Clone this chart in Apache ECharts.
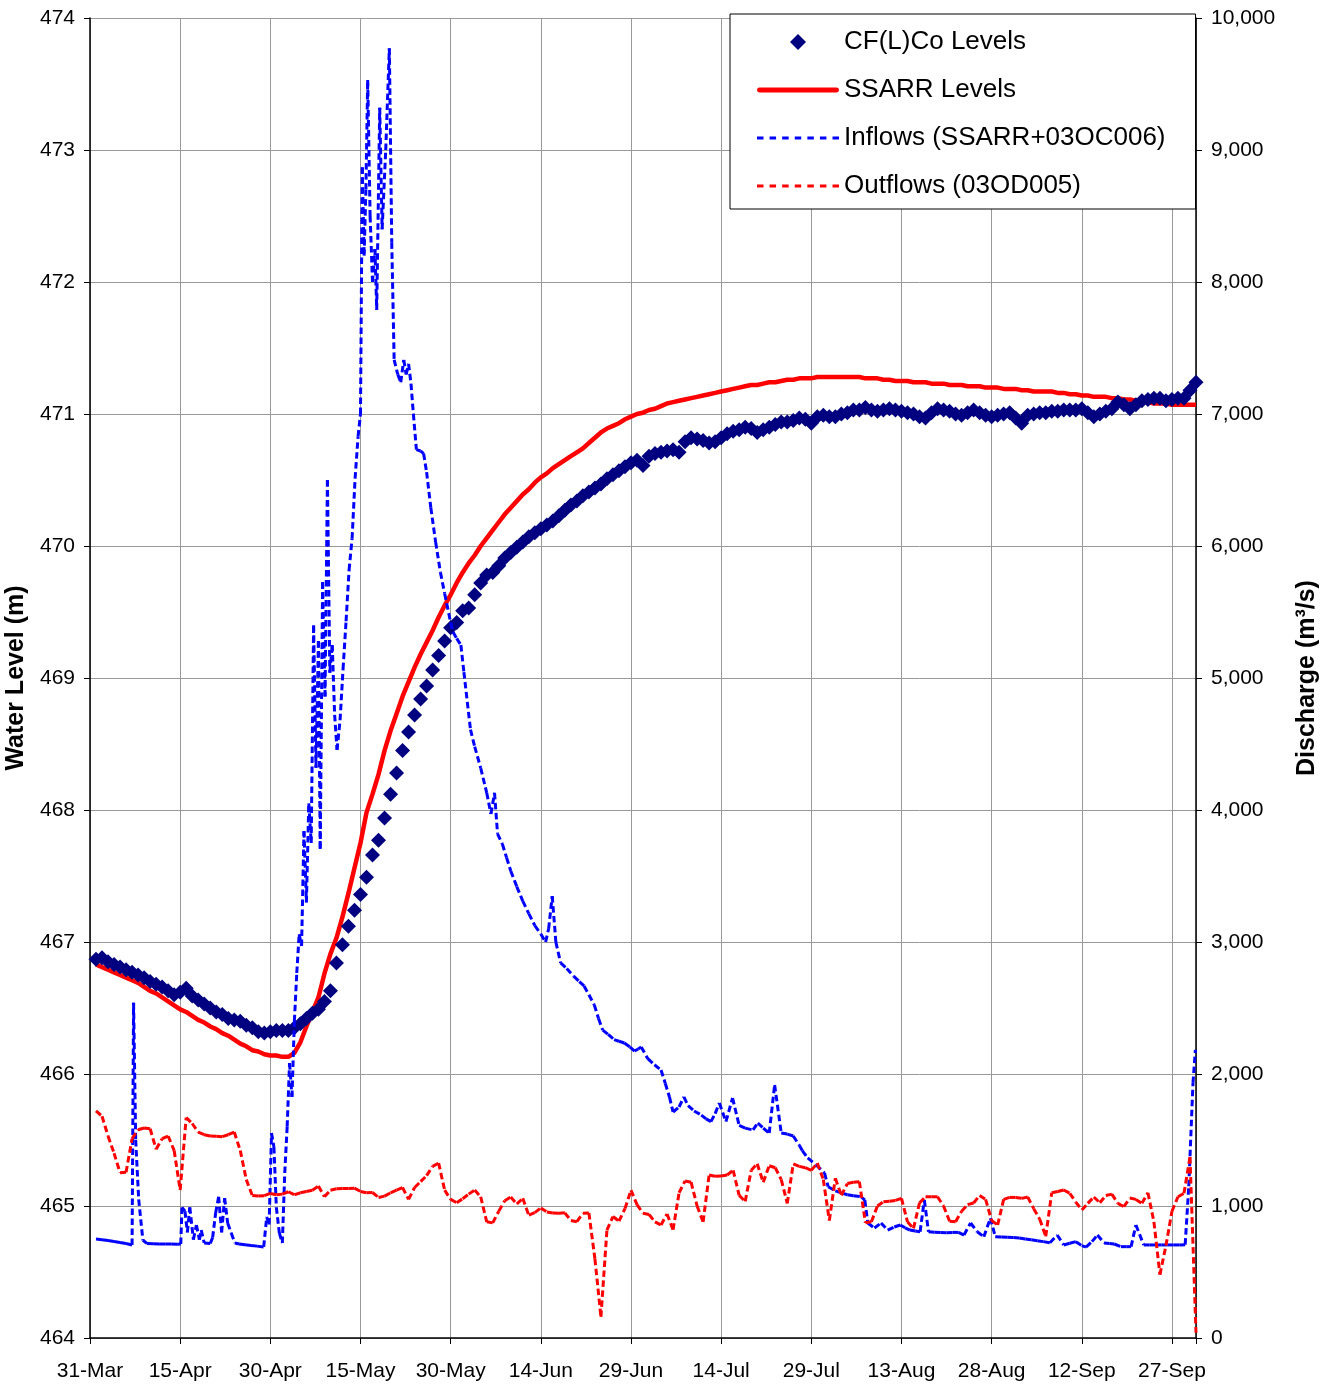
<!DOCTYPE html>
<html><head><meta charset="utf-8">
<script src="https://cdn.jsdelivr.net/npm/echarts/dist/echarts.min.js"></script>
<style>html,body{margin:0;padding:0;background:#fff}#c{width:1335px;height:1385px}</style>
</head><body><div id="c"></div>
<script>
// x positions are days after 31-Mar
const tickLabels = ['31-Mar','15-Apr','30-Apr','15-May','30-May','14-Jun','29-Jun','14-Jul','29-Jul','13-Aug','28-Aug','12-Sep','27-Sep'];
const firstDay = 1; // daily series start on 1-Apr

const cfLevels = [
466.87,466.88,466.85,466.83,466.81,466.79,466.77,466.75,466.73,466.70,
466.68,466.66,466.63,466.60,466.62,466.65,466.59,466.56,466.53,466.50,
466.47,466.45,466.42,466.41,466.40,466.37,466.35,466.32,466.31,466.32,
466.33,466.33,466.33,466.35,466.38,466.42,466.46,466.49,466.55,466.63,
466.84,466.98,467.12,467.24,467.36,467.49,467.66,467.77,467.94,468.12,
468.28,468.45,468.59,468.72,468.84,468.94,469.06,469.17,469.28,469.38,
469.42,469.51,469.53,469.63,469.72,469.78,469.80,469.85,469.91,469.95,
469.99,470.03,470.07,470.10,470.13,470.16,470.19,470.23,470.27,470.31,
470.34,470.38,470.41,470.44,470.47,470.51,470.54,470.57,470.60,470.63,
470.65,470.61,470.68,470.70,470.71,470.72,470.73,470.71,470.79,470.82,
470.81,470.80,470.78,470.79,470.82,470.85,470.87,470.88,470.90,470.89,
470.86,470.88,470.90,470.92,470.94,470.94,470.95,470.97,470.96,470.93,
470.98,470.99,470.98,470.98,471.00,471.01,471.03,471.03,471.05,471.03,
471.02,471.03,471.04,471.03,471.02,471.01,471.00,470.98,470.97,471.01,
471.04,471.03,471.02,471.00,470.99,471.01,471.03,471.01,470.99,470.98,
470.99,471.00,471.01,470.97,470.93,470.99,471.00,471.01,471.01,471.02,
471.02,471.03,471.03,471.03,471.04,471.01,470.98,471.00,471.02,471.04,
471.09,471.07,471.04,471.07,471.10,471.11,471.12,471.12,471.10,471.11,
471.12,471.12,471.18,471.24];

const ssarrLevels = [
466.83,466.81,466.79,466.77,466.75,466.73,466.71,466.69,466.66,466.63,
466.61,466.58,466.55,466.52,466.49,466.47,466.44,466.41,466.39,466.36,
466.34,466.31,466.29,466.26,466.23,466.21,466.18,466.17,466.15,466.14,
466.14,466.13,466.13,466.16,466.24,466.36,466.47,466.58,466.76,466.91,
467.03,467.19,467.37,467.56,467.75,467.98,468.12,468.27,468.45,468.60,
468.73,468.86,468.97,469.08,469.18,469.27,469.36,469.46,469.55,469.63,
469.72,469.80,469.87,469.93,470.00,470.06,470.12,470.18,470.24,470.29,
470.34,470.39,470.43,470.48,470.52,470.55,470.59,470.62,470.65,470.68,
470.71,470.74,470.78,470.82,470.86,470.89,470.91,470.93,470.96,470.98,
471.00,471.01,471.03,471.04,471.06,471.08,471.09,471.10,471.11,471.12,
471.13,471.14,471.15,471.16,471.17,471.18,471.19,471.20,471.21,471.22,
471.22,471.23,471.24,471.24,471.25,471.26,471.26,471.27,471.27,471.27,
471.28,471.28,471.28,471.28,471.28,471.28,471.28,471.28,471.27,471.27,
471.27,471.26,471.26,471.25,471.25,471.25,471.24,471.24,471.24,471.23,
471.23,471.23,471.22,471.22,471.22,471.21,471.21,471.21,471.20,471.20,
471.20,471.19,471.19,471.19,471.18,471.18,471.17,471.17,471.17,471.17,
471.16,471.16,471.15,471.15,471.14,471.14,471.13,471.13,471.13,471.12,
471.12,471.11,471.11,471.10,471.10,471.09,471.08,471.08,471.08,471.07,
471.07,471.07,471.07,471.07];

// [day, m3/s] (sub-daily where the record is)
const inflows = [
[1,750],[2,745],[3,738],[4,731],[5,724],[6,716],[7,705],[7.25,2540],[7.6,1500],[8.1,1050],[8.8,740],
[9.5,716],[10.5,714],[11.5,713],[12.5,712],[13.5,712],[14.5,711],[15.1,712],
[15.3,990],[15.8,960],[16.2,800],[16.6,990],[17.2,745],[17.7,856],[18.2,745],[18.5,818],[19,720],[20,716],[20.4,760],[20.9,947],[21.4,1070],[21.9,800],[22.4,1060],[22.9,871],[23.5,795],[24.1,720],[24.8,712],[25.8,706],[26.8,701],[27.8,696],[28.9,690],
[29.4,917],[29.8,860],[30.2,1553],[30.6,1447],[31,990],[31.5,795],[32,720],[32.4,1250],[32.8,1600],[33.2,2083],[33.6,1826],[34,2400],[34.4,2765],[34.8,3060],[35.2,2970],[35.6,3840],[36,3300],[36.4,4050],[36.8,3750],[37.2,5400],[37.6,4320],[38,5280],[38.3,3705],[38.7,5727],[39.1,4860],[39.5,6500],[39.9,5040],[40.3,5250],[40.7,4720],[41.1,4455],[41.6,4680],[42.1,5068],[42.6,5430],[43.1,5818],[43.6,6056],[44.1,6510],[44.6,6830],
[45,7000],[45.3,8870],[45.6,8200],[45.9,8700],[46.2,9530],[46.6,8500],[47,8000],[47.4,8250],[47.7,7790],[48.2,9320],[48.6,8400],[49.2,9000],[49.8,9770],[50.2,8300],[50.6,7410],[51.2,7300],[51.7,7240],[52.2,7410],[52.6,7300],[53,7380],[53.4,7230],[53.8,7000],[54.3,6730],
[55,6720],[55.5,6700],[56,6560],[56.7,6290],[57.5,6030],[58.3,5800],[59,5640],[60,5420],[60.4,5348],[61,5300],[61.7,5250],[62.2,5045],[63.3,4609],[64,4480],[65,4318],[66,4130],[66.7,3970],[67.3,4130],[67.8,3820],[68.6,3742],[69.3,3640],[70,3538],[71,3420],[72,3310],[73,3215],[74,3125],[75,3060],[75.8,3000],[76.3,3100],[76.9,3348],[77.5,3000],[78.3,2841],[79.3,2800],[80.5,2739],[81.4,2700],[82.2,2667],[83,2600],[83.9,2523],[84.6,2420],[85.3,2333],[86.2,2300],[87.2,2261],[88,2248],[88.9,2235],[89.8,2205],[90.6,2174],[91.2,2190],[91.7,2205],[92.8,2116],[93.9,2070],[95,2030],[95.7,1930],[96.4,1826],[97,1712],[98,1750],[98.8,1826],[99.5,1760],[100.5,1720],[101.7,1689],[102.5,1660],[103.3,1639],[104,1700],[104.7,1780],[105.8,1639],[106.9,1818],[108,1610],[109,1590],[110.3,1576],[111.1,1629],[112,1590],[113,1553],[113.9,1917],[115,1553],[116,1545],[117,1530],
[118,1460],[118.5,1420],[119.4,1364],[120.8,1311],[122.2,1250],[122.8,1146],[124,1115],[125,1100],[126,1085],[127,1078],[128.3,1070],[128.9,1045],[129.4,871],[130.5,833],[131.6,871],[132.7,818],[133.8,841],[134.8,856],[135.6,835],[136.4,818],[137.3,810],[138.1,805],[138.8,1045],[139.5,805],[140.5,802],[141.5,800],[142.5,798],[143.5,800],[144.5,800],[145.4,780],[146.5,871],[147.6,805],[148.7,767],[149.8,909],[150.6,767],[151.6,765],[152.6,763],[153.6,761],[154.6,758],[155.6,750],[156.6,744],[157.6,737],[158.6,730],[159.7,722],[160.9,780],[162,705],[163,718],[164,730],[165,700],[165.7,689],[166.7,730],[167.6,780],[168.7,720],[169.6,716],[170.4,712],[171.5,692],[172.4,692],[173.2,692],[174,856],[175.3,705],[176.3,705],[177.3,705],[178.3,705],[179.3,705],[180.3,705],[181.3,705],[182.2,707],[182.8,1150],[183.5,1932],[183.9,2182]
];

// daily from 1-Apr, m3/s
const outflows = [
1720,1680,1530,1400,1252,1255,1510,1578,1591,1585,
1430,1510,1530,1420,1121,1670,1625,1560,1540,1530,
1528,1525,1540,1560,1420,1200,1080,1075,1078,1095,
1085,1090,1108,1085,1100,1110,1120,1151,1070,1120,
1130,1132,1133,1135,1110,1100,1102,1065,1075,1100,
1120,1140,1050,1140,1185,1230,1300,1325,1120,1050,
1025,1055,1090,1121,1070,880,872,960,1040,1068,
1015,1058,930,950,985,955,947,945,948,890,
881,945,947,600,160,818,920,885,980,1120,
1010,945,935,880,856,940,820,1100,1190,1180,
1000,880,1235,1225,1228,1235,1270,1080,1035,1270,
1320,1180,1305,1290,1200,1020,1320,1300,1290,1270,
1325,1200,890,1210,1080,1170,1180,1184,873,881,
1000,1033,1036,1042,1058,880,830,1023,1070,1070,
1070,1000,885,881,960,1010,1023,1080,1050,890,
856,1050,1065,1065,1058,1068,980,900,770,1100,
1110,1121,1096,1030,970,1020,1068,1025,1080,1090,
1020,995,1060,1050,1020,1100,880,480,700,960,
1070,1096,1370,40];

const FONT = "'Liberation Sans', Arial, Helvetica, sans-serif";
const DASH = [6.5, 3.5];
const dayPts = arr => arr.map((v, i) => [firstDay + i, v]);
const segments = pts => { const s = []; for (let i = 0; i < pts.length - 1; i++) s.push([pts[i][0], pts[i][1], pts[i+1][0], pts[i+1][1]]); return s; };
function segRenderer(color) {
  return function (params, api) {
    const a = api.coord([api.value(0), api.value(1)]);
    const b = api.coord([api.value(2), api.value(3)]);
    return { type: 'line', shape: { x1: a[0], y1: a[1], x2: b[0], y2: b[1] },
      style: { stroke: color, lineWidth: 3, lineDash: DASH, lineCap: 'butt' } };
  };
}
const fmtThousands = v => String(v).replace(/\B(?=(\d{3})+(?!\d))/g, ',');

// legend icons drawn in an 82x16 box (corner anchors keep the box size)
const BOX = 'M0,0L0,0 M82,16L82,16 ';
const diamondIcon = 'path://' + BOX + 'M33,8L41,0L49,8L41,16Z';
const solidIcon = 'path://' + BOX + 'M2,5.5H80A2.5,2.5,0,0,1,80,10.5H2A2.5,2.5,0,0,1,2,5.5Z';
let dashPath = '';
for (let i = 0; i < 7; i++) { const x0 = i * 12.6; dashPath += 'M' + x0 + ',6.5h6.5v3h-6.5Z '; }
const dashIcon = 'path://' + BOX + dashPath;

const chart = echarts.init(document.getElementById('c'), null, { renderer: 'canvas' });
chart.setOption({
  animation: false,
  backgroundColor: '#ffffff',
  textStyle: { fontFamily: FONT },
  grid: { left: 90, right: 139, top: 18, bottom: 47, containLabel: false, outerBoundsMode: 'none' },
  legend: {
    data: [
      { name: 'CF(L)Co Levels', icon: diamondIcon },
      { name: 'SSARR Levels', icon: solidIcon },
      { name: 'Inflows (SSARR+03OC006)', icon: dashIcon },
      { name: 'Outflows (03OD005)', icon: dashIcon }
    ],
    orient: 'vertical', left: 730, top: 14, padding: [13, 30, 8, 27],
    itemWidth: 82, itemHeight: 16, itemGap: 18, symbolKeepAspect: true,
    backgroundColor: '#ffffff', borderColor: '#000000', borderWidth: 1, borderRadius: 0,
    selectedMode: false,
    textStyle: { fontFamily: FONT, fontSize: 26, color: '#000', lineHeight: 30 }
  },
  xAxis: {
    type: 'value', min: 0, max: 184, interval: 15,
    axisLine: { show: true, onZero: false, lineStyle: { color: '#000', width: 1.5 } },
    axisTick: { show: true, length: 6, inside: false, lineStyle: { color: '#000', width: 1 } },
    axisLabel: { margin: 23, fontSize: 21, color: '#000', fontFamily: FONT,
      formatter: v => (v % 15 === 0 && v / 15 < tickLabels.length) ? tickLabels[v / 15] : '' },
    splitLine: { show: true, lineStyle: { color: '#999', width: 1 } }
  },
  yAxis: [{
    type: 'value', min: 464, max: 474, interval: 1, position: 'left',
    name: 'Water Level (m)', nameLocation: 'middle', nameGap: 51, nameRotate: 90,
    nameTextStyle: { fontFamily: FONT, fontSize: 25, fontWeight: 'bold', color: '#000' },
    axisLine: { show: true, lineStyle: { color: '#000', width: 1.5 } },
    axisTick: { show: true, length: 6, lineStyle: { color: '#000' } },
    axisLabel: { margin: 15, fontSize: 21, color: '#000', fontFamily: FONT },
    splitLine: { show: true, lineStyle: { color: '#999', width: 1 } }
  }, {
    type: 'value', min: 0, max: 10000, interval: 1000, position: 'right',
    name: 'Discharge (m³/s)', nameLocation: 'middle', nameGap: 99, nameRotate: 90,
    nameTextStyle: { fontFamily: FONT, fontSize: 25, fontWeight: 'bold', color: '#000' },
    axisLine: { show: true, lineStyle: { color: '#000', width: 1.5 } },
    axisTick: { show: true, length: 6, lineStyle: { color: '#000' } },
    axisLabel: { margin: 15, fontSize: 21, color: '#000', fontFamily: FONT, formatter: fmtThousands },
    splitLine: { show: false }
  }],
  series: [
    { name: 'SSARR Levels', type: 'line', yAxisIndex: 0, data: dayPts(ssarrLevels), symbol: 'none',
      lineStyle: { color: '#ff0000', width: 4.5 }, itemStyle: { color: '#ff0000' }, z: 2, silent: true },
    { name: 'CF(L)Co Levels', type: 'scatter', yAxisIndex: 0, data: dayPts(cfLevels), symbol: 'diamond',
      symbolSize: 15, itemStyle: { color: '#000080', opacity: 1 }, z: 3, silent: true },
    { name: 'Inflows (SSARR+03OC006)', type: 'line', yAxisIndex: 1, data: [], symbol: 'none',
      lineStyle: { color: '#0000ff', width: 3, type: DASH }, itemStyle: { color: '#0000ff' } },
    { name: 'Outflows (03OD005)', type: 'line', yAxisIndex: 1, data: [], symbol: 'none',
      lineStyle: { color: '#ff0000', width: 3, type: DASH }, itemStyle: { color: '#ff0000' } },
    { name: 'inflowSegments', type: 'custom', yAxisIndex: 1, data: segments(inflows),
      encode: { x: [0, 2], y: [1, 3] }, renderItem: segRenderer('#0000ff'), z: 4, silent: true },
    { name: 'outflowSegments', type: 'custom', yAxisIndex: 1, data: segments(dayPts(outflows)),
      encode: { x: [0, 2], y: [1, 3] }, renderItem: segRenderer('#ff0000'), z: 5, silent: true }
  ]
});
</script></body></html>
